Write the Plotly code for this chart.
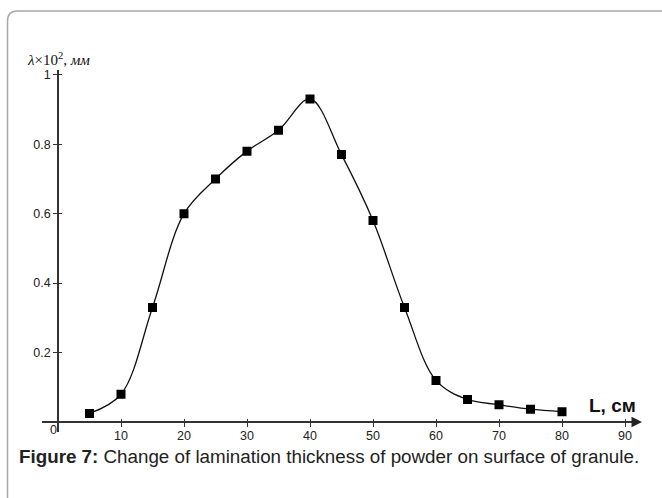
import plotly.graph_objects as go

# Data
L_cm = [5, 10, 15, 20, 25, 30, 35, 40, 45, 50, 55, 60, 65, 70, 75, 80]
thickness = [0.025, 0.08, 0.33, 0.60, 0.70, 0.78, 0.84, 0.93, 0.77, 0.58, 0.33, 0.12, 0.065, 0.05, 0.037, 0.03]
x_ticks = [10, 20, 30, 40, 50, 60, 70, 80, 90]
y_ticks = [0.2, 0.4, 0.6, 0.8, 1]
y_tick_text = ["0.2", "0.4", "0.6", "0.8", "1"]

W, H = 662, 498

def px(x):
    return x / W

def py(y):
    return (H - y) / H

# pixel geometry
x0_px, x_scale = 58.0, 6.3      # px per unit on x
y0_px, y_scale = 421.75, 348.75  # px per unit on y
left_px, right_px = 42, 636
top_px, bot_px = 68, 432

xr = [(left_px - x0_px) / x_scale, (right_px - x0_px) / x_scale]
yr = [(y0_px - bot_px) / y_scale, (y0_px - top_px) / y_scale]

fig = go.Figure()
fig.add_trace(go.Scatter(
    x=L_cm, y=thickness, mode="lines+markers",
    line=dict(color="#111111", width=1.3, shape="spline", smoothing=1.0),
    marker=dict(symbol="square", size=9, color="#000000"),
    showlegend=False, hoverinfo="skip"))
fig.add_trace(go.Scatter(x=[None], y=[None], xaxis="x2", yaxis="y2", showlegend=False))

tickfont = dict(family="Liberation Sans, Arial, sans-serif", size=12.5, color="#222222")
axis_common = dict(showgrid=False, zeroline=False, showline=True, linecolor="#333333", linewidth=1.5,
                   tickcolor="#333333", tickwidth=1.2, ticklen=4)

fig.update_layout(
    width=W, height=H, autosize=False,
    margin=dict(l=0, r=0, t=0, b=0),
    paper_bgcolor="white", plot_bgcolor="rgba(0,0,0,0)",
    xaxis=dict(domain=[px(left_px), px(right_px)], range=xr, anchor="free", position=py(y0_px),
               tickvals=x_ticks, ticks="outside", tickfont=tickfont, ticklabelstandoff=-2, **axis_common),
    yaxis=dict(domain=[py(bot_px), py(top_px)], range=yr, anchor="free", position=px(x0_px),
               tickvals=y_ticks, ticktext=y_tick_text, ticks="outside", tickfont=tickfont, **axis_common),
    xaxis2=dict(domain=[px(left_px), px(right_px)], range=xr, overlaying="x", anchor="free",
                position=py(y0_px), tickvals=x_ticks, ticks="inside", showticklabels=False,
                showgrid=False, zeroline=False, showline=False, tickcolor="#333333", tickwidth=1.2, ticklen=3),
    yaxis2=dict(domain=[py(bot_px), py(top_px)], range=yr, overlaying="y", anchor="free",
                position=px(x0_px), tickvals=y_ticks, ticks="inside", showticklabels=False,
                showgrid=False, zeroline=False, showline=False, tickcolor="#333333", tickwidth=1.2, ticklen=3),
)

# rounded frame
fx, fy, r = 7.5, 9, 10
path = (f"M {px(fx)},{py(510)} L {px(fx)},{py(fy + r)} "
        f"Q {px(fx)},{py(fy)} {px(fx + r)},{py(fy)} L {px(680)},{py(fy)}")
fig.add_shape(type="path", xref="paper", yref="paper", path=path,
              line=dict(color="#a8a8a8", width=1.5))

# arrow at end of x axis
fig.add_annotation(xref="paper", yref="paper", x=px(642), y=py(y0_px), ax=-12, ay=0,
                   text="", showarrow=True, arrowhead=2, arrowsize=1.4, arrowwidth=1.5,
                   arrowcolor="#222222")

# origin label
fig.add_annotation(xref="paper", yref="paper", x=px(53.5), y=py(430), text="0", showarrow=False,
                   font=tickfont, xanchor="center", yanchor="middle")

# axis titles
fig.add_annotation(xref="paper", yref="paper", x=px(25), y=py(57),
                   text="<i>λ</i>×10<sup>2</sup>, <i>мм</i>", showarrow=False,
                   font=dict(family="Liberation Serif, Times New Roman, serif", size=15, color="#111111"),
                   xanchor="left", yanchor="middle")
fig.add_annotation(xref="paper", yref="paper", x=px(587), y=py(405),
                   text="<b>L, см</b>", showarrow=False,
                   font=dict(family="Liberation Sans, Arial, sans-serif", size=19, color="#111111"),
                   xanchor="left", yanchor="middle")

# caption
fig.add_annotation(xref="paper", yref="paper", x=px(17), y=py(456),
                   text="<b>Figure 7:</b> Change of lamination thickness of powder on surface of granule.",
                   showarrow=False,
                   font=dict(family="Liberation Sans, Arial, sans-serif", size=18.8, color="#222222"),
                   xanchor="left", yanchor="middle")

fig.write_html("out.html")
